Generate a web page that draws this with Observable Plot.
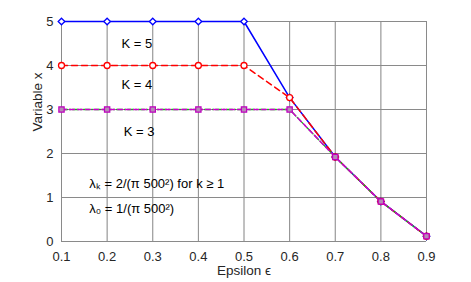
<!DOCTYPE html>
<html><head><meta charset="utf-8">
<script src="https://cdn.jsdelivr.net/npm/d3@7"></script>
<script src="https://cdn.jsdelivr.net/npm/@observablehq/plot@0.6"></script>
<style>
body{margin:0;background:#fff;}
svg{font-family:"Liberation Sans",Arial,sans-serif;}
</style>
</head><body><div id="chart"></div>
<script>
const epsilon = [0.1,0.2,0.3,0.4,0.5,0.6,0.7,0.8,0.9];
const k5 = [5,5,5,5,5,3.27,1.92,0.91,0.12];
const k4 = [4,4,4,4,4,3.27,1.92,0.91,0.12];
const k3 = [3,3,3,3,3,3.0,1.92,0.91,0.12];
const xTicks = [0.1,0.2,0.3,0.4,0.5,0.6,0.7,0.8,0.9];
const yTicks = [0,1,2,3,4,5];
const kLabels = [{t:"K = 5",x:0.265,y:4.5},{t:"K = 4",x:0.265,y:3.55},{t:"K = 3",x:0.27,y:2.5}];
const lamLabels = [{t:"λₖ = 2/(π 500²) for k ≥ 1",x:0.161,y:1.3},{t:"λ₀ = 1/(π 500²)",x:0.161,y:0.75}];

const fmt1 = d => d.toFixed(1);
const rows = (ys) => epsilon.map((e,i)=>({x:e,y:ys[i]}));
const d5 = rows(k5), d4 = rows(k4), d3r = rows(k3);

const plot = Plot.plot({
  width:471, height:282,
  marginLeft:61, marginRight:45, marginTop:21, marginBottom:41,
  style:{fontSize:"13px", fontFamily:"Liberation Sans, Arial, sans-serif", color:"#262626", background:"#fff"},
  x:{domain:[0.1,0.9], label:null},
  y:{domain:[0,5], label:null},
  marks:[
    Plot.gridX(xTicks,{stroke:"#f0f0f0", strokeOpacity:1}),
    Plot.gridY(yTicks,{stroke:"#f0f0f0", strokeOpacity:1}),
    Plot.ruleY([0],{stroke:"#8a8a8a", strokeWidth:1}),
    Plot.ruleX([0.1],{stroke:"#8a8a8a", strokeWidth:1}),
    Plot.tickX(xTicks,{x:d=>d, y1:0, y2:0.06, stroke:"#8a8a8a"}),
    Plot.tickY(yTicks,{y:d=>d, x1:0.1, x2:0.108, stroke:"#8a8a8a"}),
    Plot.axisX(xTicks,{tickFormat:fmt1, tickSize:0, tickPadding:10, fill:"#262626", label:null, fontSize:13}),
    Plot.axisY(yTicks,{tickSize:0, tickPadding:8, fill:"#262626", label:null, fontSize:13}),
    Plot.line(d5,{x:"x",y:"y",stroke:"#0000ff",strokeWidth:1.5}),
    Plot.dot(d5,{x:"x",y:"y",symbol:"diamond2",r:3,stroke:"#0000ff",strokeWidth:1.3,fill:"white"}),
    Plot.line(d4,{x:"x",y:"y",stroke:"#ff0000",strokeWidth:1.5,strokeDasharray:"6,4"}),
    Plot.dot(d4,{x:"x",y:"y",symbol:"circle",r:3,stroke:"#ff0000",strokeWidth:1.3,fill:"white"}),
    Plot.line(d3r,{x:"x",y:"y",stroke:"#00cc00",strokeWidth:1.3,strokeDasharray:"6,2,1,2"}),
    Plot.line(d3r,{x:"x",y:"y",stroke:"#cc00cc",strokeWidth:1.5,strokeDasharray:"5,3"}),
    Plot.dot(d3r,{x:"x",y:"y",symbol:"square",r:3,stroke:"#bf00bf",strokeWidth:1.2,fill:"#b78ab7"}),
    Plot.text(kLabels,{x:"x",y:"y",text:"t",fontSize:13,fill:"#000"}),
    Plot.text(lamLabels,{x:"x",y:"y",text:"t",textAnchor:"start",fontSize:13,fill:"#000"}),
    Plot.text(["Epsilon ϵ"],{frameAnchor:"bottom",dy:33,fontSize:13.5,fill:"#262626"}),
    Plot.text(["Variable x"],{frameAnchor:"left",dx:-24,rotate:-90,fontSize:13.5,fill:"#262626"})
  ]
});
document.getElementById("chart").appendChild(plot);
</script>
</body></html>
